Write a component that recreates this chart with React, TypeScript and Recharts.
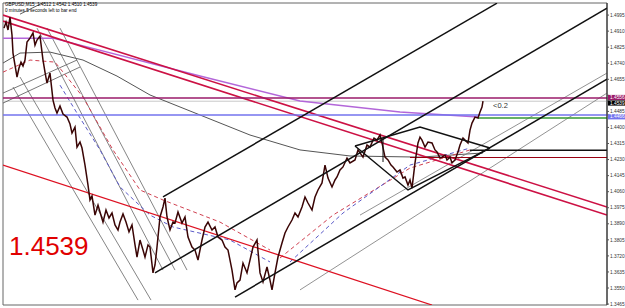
import React from 'react';
import { ComposedChart, Line, XAxis, YAxis, ReferenceArea } from 'recharts';

// ---- header / annotations ----
const symbolName = 'GBPUSD,M15';
const lastBarOHLC = [1.4512, 1.4542, 1.4510, 1.4539];
const timerText = '0 minutes 5 seconds left to bar end';
const spreadText = '<0.2';

// ---- price series (bar index, close) ----
const barIndex = [
  0.5, 1.5, 2.5, 3.5, 4.5, 5, 6, 7, 8, 9, 10, 11, 12, 13.5, 15, 16, 17, 18.5, 20, 21, 22, 23.5, 25, 26, 27, 28.5, 30, 32, 33.5, 34.5,
  36, 37, 38.5, 39.5, 41, 42.5, 43.5, 44.5, 46, 47.5, 48.5, 50, 51.5, 53, 54.5, 56, 57.5, 58.5, 60, 61.5, 63, 64.5, 66, 67, 68.5, 70,
  71, 72.5, 73.5, 75, 76, 77, 78.5, 80, 81, 82, 83.5, 85, 86, 87.5, 89.5, 91, 92.5, 94.5, 96, 97.5, 99.5, 101, 102.5, 104.5, 106,
  107.5, 109.5, 111, 112.5, 114.5, 116, 117, 118.5, 120, 122, 123.5, 125, 127, 128.5, 130, 132, 133.5, 134.5, 136, 137.5, 139.5,
  141, 142.5, 144.5, 146, 147.5, 149.5, 151, 152.5, 154.5, 156, 157.5, 159.5, 161, 162.5, 164.5, 166, 167, 168.5, 170, 172, 173.5,
  176, 177.5, 180, 182, 183.5, 185.5, 187, 188.5, 189.5, 191, 192.5, 194, 195, 197, 198.5, 200, 201, 202.5, 203.5, 204.5, 206,
  207.5, 208.5, 209.5, 211, 212.5, 214.5, 216, 217, 218.5, 219.5, 221, 222, 223.5, 224.5, 226, 227.5, 228.5, 230, 231, 232.5,
  233.5, 234.5, 236, 237.5, 238.5, 239.5, 240,
];
const closePrice = [
  1.4926, 1.4958, 1.4916, 1.4984, 1.4889, 1.4794, 1.4730, 1.4667, 1.4715, 1.4746, 1.4725, 1.4757, 1.4852, 1.4873, 1.4900, 1.4836,
  1.4863, 1.4884, 1.4757, 1.4693, 1.4635, 1.4688, 1.4545, 1.4503, 1.4476, 1.4513, 1.4471, 1.4455, 1.4418, 1.4370,
  1.4402, 1.4296, 1.4323, 1.4291, 1.4201, 1.4095, 1.4016, 1.4037, 1.3936, 1.3989, 1.3952, 1.3899, 1.3963, 1.3921, 1.3947, 1.3884,
  1.3857, 1.3899, 1.3942, 1.3899, 1.3847, 1.3884, 1.3778, 1.3714, 1.3804, 1.3751,
  1.3714, 1.3778, 1.3767, 1.3630, 1.3672, 1.3767, 1.3926, 1.3979, 1.4026, 1.3926, 1.3857, 1.3899, 1.3894, 1.3952, 1.3894, 1.3926,
  1.3820, 1.3767, 1.3751, 1.3698, 1.3804, 1.3873, 1.3899, 1.3857, 1.3873,
  1.3820, 1.3804, 1.3767, 1.3751, 1.3645, 1.3540, 1.3577, 1.3592, 1.3682, 1.3630, 1.3698, 1.3767, 1.3804, 1.3630, 1.3582, 1.3661,
  1.3592, 1.3540, 1.3630, 1.3714, 1.3788,
  1.3841, 1.3873, 1.3910, 1.3947, 1.3926, 1.3979, 1.4032, 1.4000, 1.3963, 1.4032, 1.4069, 1.4106, 1.4201, 1.4132, 1.4085, 1.4122,
  1.4138, 1.4175, 1.4191, 1.4238, 1.4212,
  1.4228, 1.4281, 1.4243, 1.4307, 1.4296, 1.4344, 1.4333, 1.4360, 1.4318, 1.4243, 1.4228, 1.4201, 1.4191, 1.4164, 1.4175, 1.4132,
  1.4138, 1.4095, 1.4122, 1.4079, 1.4212,
  1.4318, 1.4349, 1.4333, 1.4296, 1.4323, 1.4318, 1.4281, 1.4270, 1.4238, 1.4243, 1.4254, 1.4228, 1.4243, 1.4212, 1.4228, 1.4270,
  1.4307, 1.4344, 1.4333, 1.4318,
  1.4386, 1.4423, 1.4455, 1.4450, 1.4482, 1.4508, 1.4539,
];

// ---- right price scale ----
const priceTicks = [
  1.3465, 1.3550, 1.3635, 1.3720, 1.3805, 1.3890, 1.3975, 1.4060, 1.4145, 1.4230, 1.4315, 1.4400, 1.4485, 1.4570, 1.4655, 1.4740,
  1.4825, 1.4910, 1.4995,
];
const hiddenTickLabels = ['1.4570'];
const taggedPrices = [1.4556, 1.4539, 1.4466];

// ---- drawn objects: [bar, price] points ----
const redTrendA = [[0, 1.4995], [302, 1.3979]];
const redTrendB = [[0, 1.4963], [302, 1.3936]];
const redTrendLow = [[0, 1.4201], [214.5, 1.3460]];
const violetAverage = [[0, 1.4873], [25, 1.4873], [98.5, 1.4672], [148.5, 1.4540], [198.5, 1.4482], [237.5, 1.4455]];
const slowAverage = [
  [0, 1.4741], [8.5, 1.4794], [23.5, 1.4799], [40, 1.4757], [57, 1.4672], [73.5, 1.4572], [98.5, 1.4466],
  [123.5, 1.4360], [148.5, 1.4281], [173.5, 1.4249], [208.5, 1.4243], [240, 1.4265],
];
const levelMagenta = [[0, 1.4556], [302, 1.4556]];
const levelBid = [[0, 1.4539], [302, 1.4539]];
const levelBlue = [[0, 1.4466], [302, 1.4466]];
const levelGreen = [[237.5, 1.4450], [302, 1.4450]];
const levelBlack = [[233.5, 1.4279], [302, 1.4279]];
const levelDarkRed = [[203.5, 1.4241], [302, 1.4241]];
const channelTop = [[80, 1.4032], [247, 1.5058]];
const channelBase = [[76, 1.3630], [302, 1.5032]];
const channelLowA = [[116, 1.3502], [302, 1.4656]];
const channelThin1 = [[178.5, 1.3936], [302, 1.4688]];
const channelThin2 = [[148.5, 1.3540], [302, 1.4582]];
const patternTop = [[176, 1.4302], [208.5, 1.4402], [243.5, 1.4291]];
const patternLow = [[176, 1.4302], [202.5, 1.4069], [243.5, 1.4291]];
const patternMark = [[190, 1.4344], [190, 1.4217]];
const steep1 = [[5, 1.4614], [67.5, 1.3486]];
const steep2 = [[8.5, 1.4667], [74, 1.3486]];
const steep3 = [[17, 1.4926], [80, 1.3645]];
const steep4 = [[22, 1.4926], [86, 1.3645]];
const steep5 = [[28.5, 1.4926], [92, 1.3645]];
const riseA = [[0, 1.4529], [38.5, 1.4720]];
const riseB = [[0, 1.4582], [37, 1.4757]];
const riseC = [[8.5, 1.5000], [19.5, 1.5058]];
const redDashA = [
  [0, 1.4693], [13.5, 1.4757], [26, 1.4746], [40, 1.4561], [55, 1.4281], [68.5, 1.4069], [80, 1.4016], [108.5, 1.3899], [133.5, 1.3751],
];
const blueDashA = [
  [28.5, 1.4624], [37, 1.4476], [48.5, 1.4281], [58.5, 1.4085], [73.5, 1.3936], [85, 1.3873], [113.5, 1.3804], [133.5, 1.3688],
];
const redDashB = [[138.5, 1.3709], [165, 1.3936], [203.5, 1.4185], [233.5, 1.4281]];
const blueDashB = [[143.5, 1.3688], [170, 1.3947], [203.5, 1.4201], [233.5, 1.4291]];

const priceData = barIndex.map((t, i) => ({ t, close: closePrice[i] }));
const pts = (arr: number[][]) => arr.map(([t, p]) => ({ t, p }));

const tagStyle: Record<string, { bg: string; dy: number }> = {
  '1.4556': { bg: '#9a1a6a', dy: -0.5 },
  '1.4539': { bg: '#000000', dy: 1.8 },
  '1.4466': { bg: '#7373ee', dy: 1.8 },
};

function PriceTick(props: any) {
  const { x, y, payload } = props;
  const label = Number(payload.value).toFixed(4);
  const tag = tagStyle[label];
  if (tag) {
    const cy = y + tag.dy;
    return (
      <g>
        <rect x={x - 2} y={cy - 2.6} width={17} height={5.2} fill={tag.bg} />
        <text x={x} y={cy + 1.7} fontSize={4.8} fill="#ffffff" fontFamily="Liberation Sans, Arial, sans-serif">
          {label}
        </text>
      </g>
    );
  }
  if (hiddenTickLabels.includes(label)) return <g />;
  return (
    <text x={x} y={y + 1.7} fontSize={4.8} fill="#333333" fontFamily="Liberation Sans, Arial, sans-serif">
      {label}
    </text>
  );
}

const seg = (data: number[][], stroke: string, width: number, key: string, dash?: string) => (
  <Line
    key={key}
    data={pts(data)}
    dataKey="p"
    type="linear"
    stroke={stroke}
    strokeWidth={width}
    strokeDasharray={dash}
    dot={false}
    activeDot={false}
    isAnimationActive={false}
    legendType="none"
  />
);

export default function App() {
  const last = closePrice[closePrice.length - 1];
  return (
    <div style={{ position: 'absolute', left: 0, top: 0, width: 625, height: 308, background: '#ffffff', overflow: 'hidden' }}>
      <ComposedChart width={625} height={308} data={priceData} margin={{ top: 3, right: 0, bottom: 3, left: 3 }}>
        <XAxis dataKey="t" type="number" domain={[0, 302]} hide allowDataOverflow />
        <YAxis
          orientation="right"
          type="number"
          domain={[1.346, 1.5059]}
          allowDataOverflow
          ticks={[...priceTicks, ...taggedPrices]}
          interval={0}
          width={18}
          tickSize={2}
          tickMargin={1}
          axisLine={{ stroke: '#222222' }}
          tickLine={{ stroke: '#555555' }}
          tick={<PriceTick />}
        />
        <ReferenceArea x1={0} x2={302} y1={1.346} y2={1.5059} fill="none" stroke="#666666" strokeWidth={1} />
        {seg(levelBid, '#c8c8c8', 1, 'bid')}
        {seg(slowAverage, '#555555', 1, 'slow')}
        {seg(steep1, '#666666', 0.8, 's1')}
        {seg(steep2, '#666666', 0.8, 's2')}
        {seg(steep3, '#666666', 0.8, 's3')}
        {seg(steep4, '#666666', 0.8, 's4')}
        {seg(steep5, '#666666', 0.8, 's5')}
        {seg(riseA, '#555555', 0.8, 'ra')}
        {seg(riseB, '#555555', 0.8, 'rb')}
        {seg(riseC, '#333333', 0.8, 'rc')}
        {seg(redDashA, '#d04050', 1, 'rda', '4 3')}
        {seg(blueDashA, '#5a5ac8', 1, 'bda', '4 3')}
        {seg(redDashB, '#d04050', 1, 'rdb', '4 3')}
        {seg(blueDashB, '#5a5ac8', 1, 'bdb', '4 3')}
        {seg(channelThin1, '#777777', 0.8, 'ct1')}
        {seg(channelThin2, '#777777', 0.8, 'ct2')}
        {seg(violetAverage, '#b366d9', 1.5, 'violet')}
        {seg(redTrendA, '#cc1144', 1.6, 'rta')}
        {seg(redTrendB, '#cc1144', 1.6, 'rtb')}
        {seg(redTrendLow, '#dd1122', 1.3, 'rtl')}
        {seg(levelMagenta, '#9a1a6a', 1.5, 'lm')}
        {seg(levelBlue, '#7373ee', 1.5, 'lb')}
        {seg(levelGreen, '#339933', 1.5, 'lg')}
        {seg(levelBlack, '#111111', 1.5, 'lk')}
        {seg(levelDarkRed, '#990011', 1.2, 'ldr')}
        <Line
          dataKey="close"
          type="linear"
          stroke="#3a0505"
          strokeWidth={1.5}
          dot={false}
          activeDot={false}
          isAnimationActive={false}
          legendType="none"
        />
        {seg(channelTop, '#111111', 1.5, 'ctop')}
        {seg(channelBase, '#111111', 1.5, 'cbase')}
        {seg(channelLowA, '#111111', 1.5, 'clow')}
        {seg(patternTop, '#111111', 1.5, 'ptop')}
        {seg(patternLow, '#111111', 1.5, 'plow')}
        {seg(patternMark, '#111111', 1, 'pmark')}
      </ComposedChart>
      <div
        style={{
          position: 'absolute', left: 5, top: 2, fontFamily: 'Liberation Sans, Arial, sans-serif', fontSize: 4.6,
          lineHeight: '6px', color: '#000', whiteSpace: 'pre',
        }}
      >
        {`${symbolName}  ${lastBarOHLC.map((v) => v.toFixed(4)).join(' ')}`}
        {'\n'}
        {timerText}
      </div>
      <div
        style={{
          position: 'absolute', left: 9, top: 233, fontFamily: 'Liberation Sans, Arial, sans-serif', fontSize: 26,
          lineHeight: 1, color: '#e00000',
        }}
      >
        {last.toFixed(4)}
      </div>
      <div
        style={{
          position: 'absolute', left: 493, top: 102, fontFamily: 'Liberation Sans, Arial, sans-serif', fontSize: 7.5,
          lineHeight: 1, color: '#333',
        }}
      >
        {spreadText}
      </div>
    </div>
  );
}
